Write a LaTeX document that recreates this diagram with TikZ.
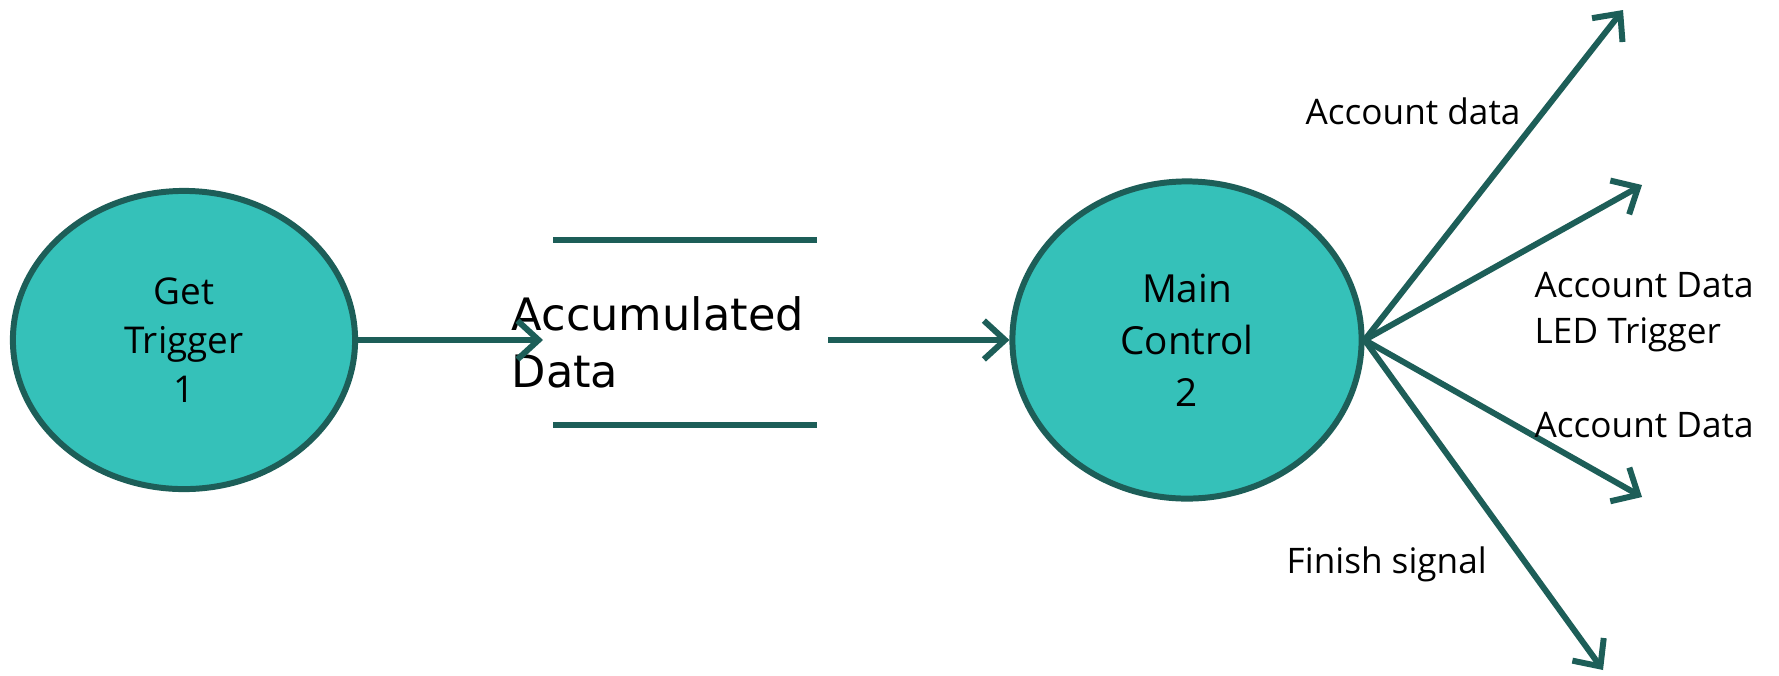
\documentclass[tikz,border=0pt]{standalone}
\usepackage{fontspec}
\setmainfont{Open Sans}
\newfontfamily\storefont{DejaVu Sans}
\usetikzlibrary{arrows.meta,shapes.geometric}
\definecolor{procfill}{HTML}{35C1B9}
\definecolor{procline}{HTML}{1D5E58}
\tikzset{
  proc/.style={ellipse,draw=procline,fill=procfill,line width=1.7pt,inner sep=0pt,
    align=center,font=\fontsize{10.5}{14}\selectfont},
  flow/.style={draw=procline,line width=1.7pt,-{Straight Barb[length=6pt,width=11pt,line width=1.7pt]}},
  storeline/.style={draw=procline,line width=1.7pt},
  flowlabel/.style={inner sep=0pt,font=\fontsize{10}{13}\selectfont,align=left}
}
\begin{document}
\begin{tikzpicture}[x=0.01cm,y=-0.01cm]
\useasboundingbox (0,0) rectangle (1779,675);
\node[proc,minimum width=3.42cm,minimum height=2.98cm] (1) at (184,340) {Get\\Trigger\\1};
\node[proc,minimum width=3.49cm,minimum height=3.17cm,font=\fontsize{11}{14.8}\selectfont] (2) at (1187,340) {Main\\Control\\2};
\node[inner sep=0pt,anchor=west,align=left,font=\storefont\fontsize{12.7}{16.2}\selectfont] (3) at (511,342) {Accumulated\\Data};
\path[storeline] (553,240) -- (817,240);
\path[storeline] (553,425) -- (817,425);
\coordinate (a) at (543,340);
\coordinate (b) at (828,340);
\coordinate (o1) at (1623,10);
\coordinate (o2) at (1642,185);
\coordinate (o3) at (1642,497);
\coordinate (o4) at (1603,670);
\path[flow] (1.east) -- (a);
\path[flow] (b) -- (2.west);
\path[flow] (2.east) -- (o1);
\path[flow] (2.east) -- (o2);
\path[flow] (2.east) -- (o3);
\path[flow] (2.east) -- (o4);
\node[flowlabel,anchor=west] (l1) at (1305,111) {Account data};
\node[flowlabel,anchor=west] (l2) at (1534,312) {Account Data\\LED Trigger};
\node[flowlabel,anchor=west] (l3) at (1534,425) {Account Data};
\node[flowlabel,anchor=west] (l4) at (1286,564) {Finish signal};
\end{tikzpicture}
\end{document}
